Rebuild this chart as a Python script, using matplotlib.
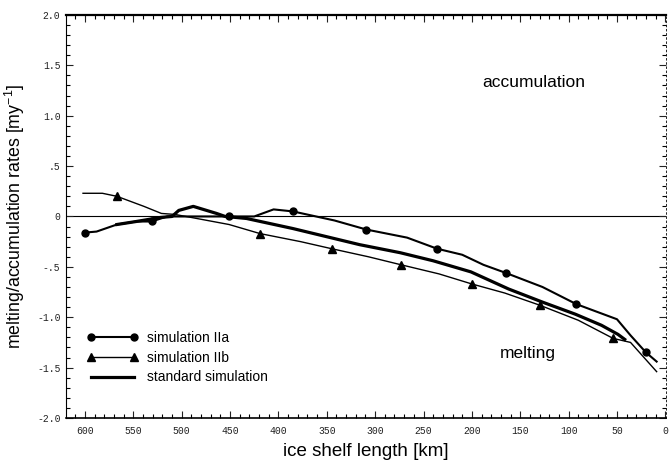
import matplotlib
matplotlib.use("Agg")
import matplotlib.pyplot as plt
from matplotlib.ticker import MultipleLocator, FixedLocator

plt.rcParams['font.family'] = ['Liberation Sans', 'DejaVu Sans']
plt.rcParams['mathtext.default'] = 'regular'

# simulation IIa (circles)
km_iia = [600, 588, 567, 547, 531, 515, 500, 451, 425, 405, 385, 342, 309, 267, 236, 210, 188, 165, 127, 92, 64, 50, 36, 20, 9]
val_iia = [-0.16, -0.15, -0.08, -0.05, -0.05, 0.0, 0.0, 0.0, 0.0, 0.07, 0.05, -0.04, -0.13, -0.21, -0.32, -0.38, -0.48, -0.56, -0.70, -0.87, -0.97, -1.02, -1.18, -1.35, -1.44]
mark_iia = [0, 4, 7, 10, 12, 14, 17, 19, 23]

# simulation IIb (triangles)
km_iib = [602, 582, 567, 539, 521, 507, 490, 451, 419, 377, 345, 307, 273, 234, 200, 166, 130, 90, 54, 36, 9]
val_iib = [0.23, 0.23, 0.20, 0.10, 0.03, 0.02, -0.01, -0.08, -0.17, -0.25, -0.32, -0.40, -0.48, -0.57, -0.67, -0.76, -0.88, -1.03, -1.21, -1.25, -1.54]
mark_iib = [2, 8, 10, 12, 14, 16, 18]

# standard simulation
km_std = [567, 547, 522, 510, 503, 488, 464, 455, 433, 385, 316, 274, 240, 201, 162, 127, 93, 66, 49, 42]
val_std = [-0.08, -0.05, -0.01, 0.0, 0.06, 0.10, 0.03, 0.0, -0.02, -0.12, -0.28, -0.36, -0.44, -0.55, -0.72, -0.85, -0.97, -1.08, -1.17, -1.22]

xticks = [600, 550, 500, 450, 400, 350, 300, 250, 200, 150, 100, 50, 0]
yticks = [2.0, 1.5, 1.0, 0.5, 0.0, -0.5, -1.0, -1.5, -2.0]
ytick_labels = ["2.0", "1.5", "1.0", ".5", "0", "-.5", "-1.0", "-1.5", "-2.0"]

fig = plt.figure(figsize=(6.7, 4.66), dpi=100)
ax = fig.add_axes([0.0985, 0.103, 0.896, 0.865])

ax.axhline(0, color='black', lw=0.8, zorder=1)
ax.plot(km_iia, val_iia, color='black', lw=1.5, marker='o', ms=5,
        markevery=mark_iia, label='simulation IIa', zorder=3)
ax.plot(km_iib, val_iib, color='black', lw=1.0, marker='^', ms=6,
        markevery=mark_iib, label='simulation IIb', zorder=3)
ax.plot(km_std, val_std, color='black', lw=2.3, label='standard simulation', zorder=2)

ax.set_xlim(619.6, -1)
ax.set_ylim(-2, 2)

ax.xaxis.set_major_locator(FixedLocator(xticks))
ax.xaxis.set_minor_locator(MultipleLocator(10))
ax.yaxis.set_major_locator(FixedLocator(yticks))
ax.yaxis.set_minor_locator(MultipleLocator(0.1))
ax.set_yticklabels(ytick_labels)
ax.set_xticklabels([str(t) for t in xticks])

ax.tick_params(which='both', direction='in', top=True, right=True, width=0.8)
ax.tick_params(which='major', length=5)
ax.tick_params(which='minor', length=3)
ax.tick_params(axis='both', labelsize=7, colors='#222222')
ax.tick_params(axis='x', pad=6)
ax.tick_params(axis='y', pad=4)
for lab in ax.get_xticklabels() + ax.get_yticklabels():
    lab.set_family('Liberation Mono')

ax.spines['top'].set_linewidth(1.6)
ax.spines['bottom'].set_linewidth(1.2)
ax.spines['left'].set_linewidth(0.8)
ax.spines['right'].set_linewidth(0.6)
ax.spines['right'].set_linestyle((0, (2, 3)))

ax.set_xlabel('ice shelf length [km]', fontsize=13.5, labelpad=5)
ax.set_ylabel('melting/accumulation rates [my$^{-1}$]', fontsize=12.8, labelpad=7)

ax.text(136, 1.33, 'accumulation', fontsize=12.5, ha='center', va='center')
ax.text(142, -1.36, 'melting', fontsize=12.5, ha='center', va='center')

leg = ax.legend(loc='upper left', bbox_to_anchor=(0.035, 0.215), frameon=False,
                numpoints=2, fontsize=10, handlelength=3.7, handletextpad=0.6,
                labelspacing=0.4, borderpad=0, borderaxespad=0)

fig.savefig('out.png', dpi=100)
